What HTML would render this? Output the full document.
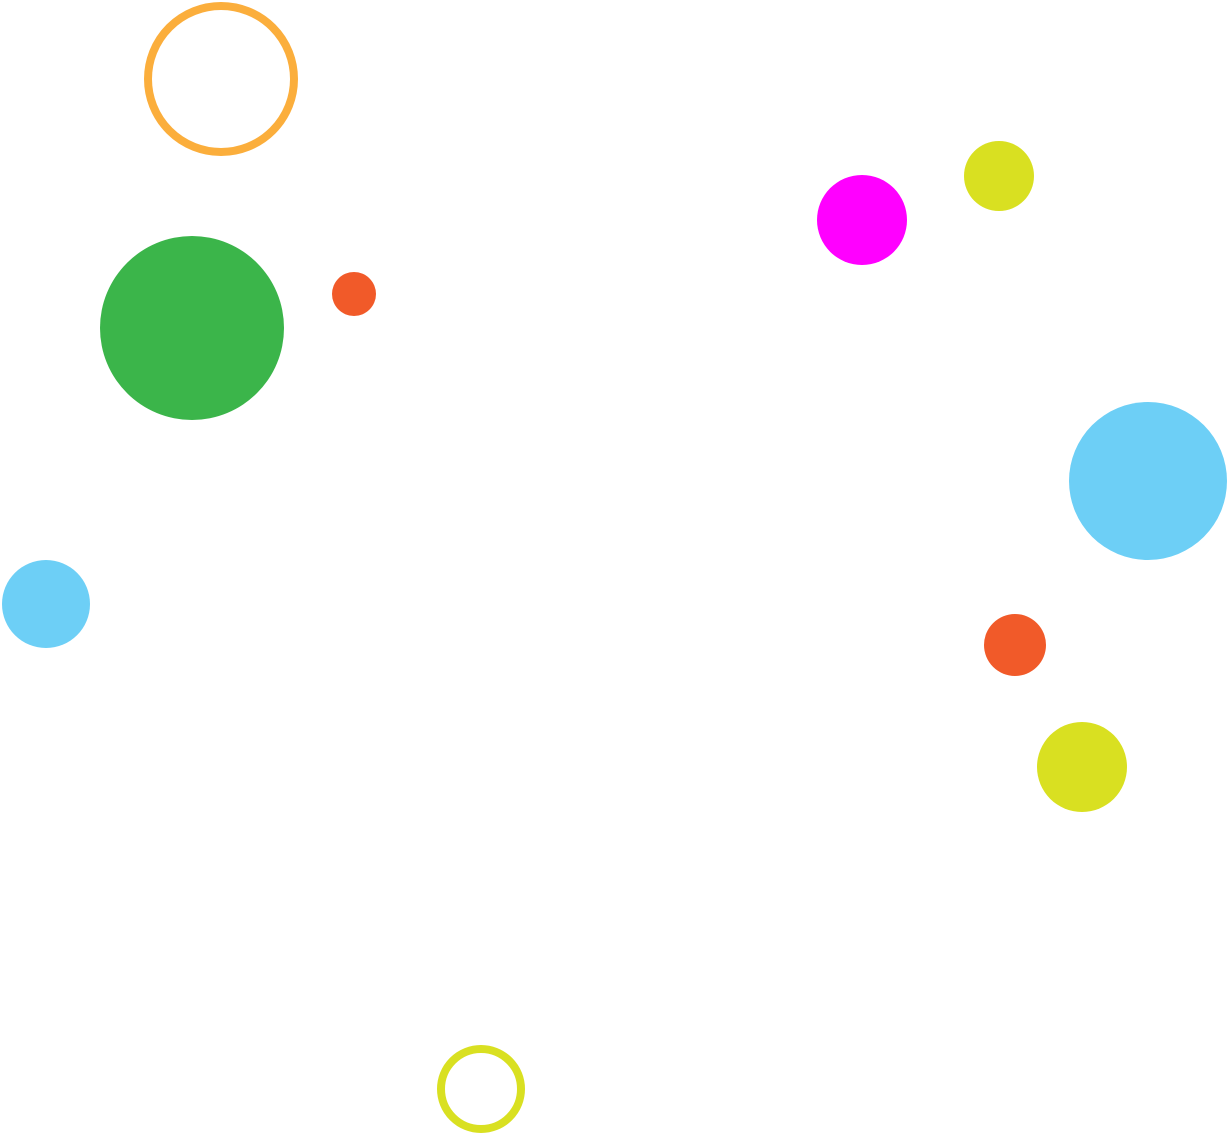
<!DOCTYPE html>
<html><head><meta charset="utf-8"><style>html,body{margin:0;padding:0;background:#fff}svg{display:block}</style></head>
<body>
<svg width="1229" height="1137" viewBox="0 0 1229 1137" xmlns="http://www.w3.org/2000/svg">
<circle cx="221" cy="79" r="73" fill="none" stroke="#FBAE3C" stroke-width="8"/>
<circle cx="192" cy="328" r="92" fill="#3BB54A"/>
<circle cx="354" cy="294" r="22" fill="#F15A29"/>
<circle cx="862" cy="220" r="45" fill="#FF00FF"/>
<circle cx="999" cy="176" r="35" fill="#D9E021"/>
<circle cx="1148" cy="481" r="79" fill="#6DCFF6"/>
<circle cx="46" cy="604" r="44" fill="#6DCFF6"/>
<circle cx="1015" cy="645" r="31" fill="#F15A29"/>
<circle cx="1082" cy="767" r="45" fill="#D9E021"/>
<circle cx="481" cy="1089" r="40" fill="none" stroke="#D9E021" stroke-width="8"/>
</svg>
</body></html>
